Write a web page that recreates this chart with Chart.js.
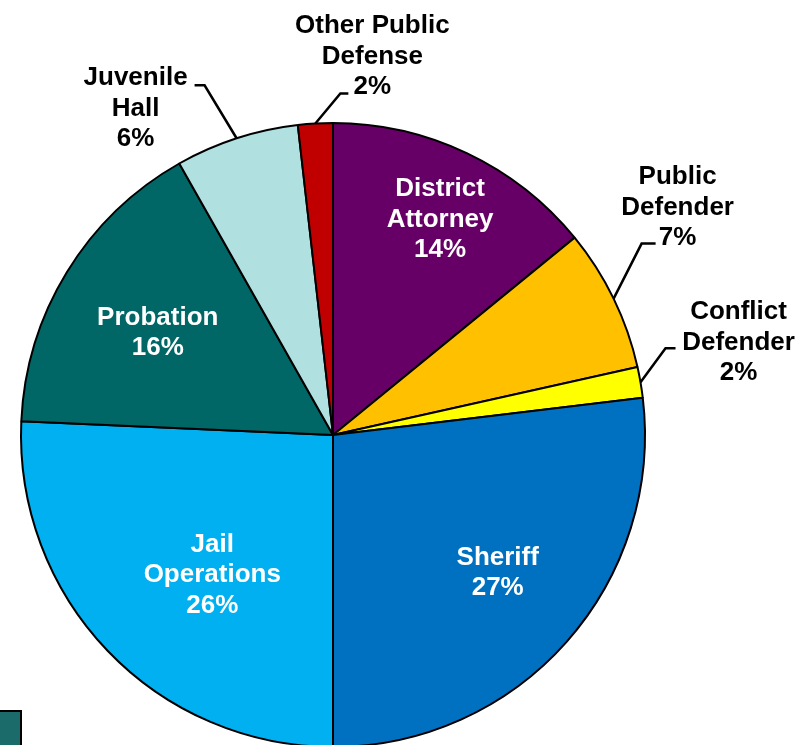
<!DOCTYPE html>
<html>
<head>
<meta charset="utf-8">
<script src="https://cdn.jsdelivr.net/npm/chart.js@4.4.1/dist/chart.umd.min.js"></script>
<style>
  html, body { margin: 0; padding: 0; background: #fff; overflow: hidden; }
  #wrap { position: relative; width: 809px; height: 748px; }
  #swatch { position: absolute; left: 0; top: 710px; width: 20px; height: 40px;
            background: #1b6b6b; border-top: 2px solid #000; border-right: 2px solid #000; }
</style>
</head>
<body>
<div id="wrap">
  <canvas id="pieChart"></canvas>
  <div id="swatch"></div>
</div>
<script>
// 부서별 비중 (%)
const departments = ["District Attorney", "Public Defender", "Conflict Defender", "Sheriff",
                     "Jail Operations", "Probation", "Juvenile Hall", "Other Public Defense"];
const shares = [14.1, 7.4, 1.6, 26.9, 25.7, 16.1, 6.4, 1.8];
const labelLines = [["District", "Attorney"], ["Public", "Defender"], ["Conflict", "Defender"], ["Sheriff"],
                    ["Jail", "Operations"], ["Probation"], ["Juvenile", "Hall"], ["Other Public", "Defense"]];
const colors = ["#660066", "#ffc000", "#ffff00", "#0070c0", "#00b0f0", "#006666", "#b0e0e0", "#c00000"];

// label placement: inside -> polar position, outside -> leader line + text offsets
const labelLayout = [
  { inside: true, r: 0.778, turn: 0.8 },
  { inside: false, elbow: [28, -55], tail: 14, text: [22, -38] },
  { inside: false, elbow: [25, -34], tail: 10, text: [63, -8] },
  { inside: true, r: 0.684, turn: -2.1 },
  { inside: true, r: 0.588, turn: -5.1 },
  { inside: true, r: 0.654, turn: -0.7 },
  { inside: false, elbow: [-32, -53], tail: -10, text: [-59, 21] },
  { inside: false, elbow: [25, -30], tail: 8, text: [24, -39] }
];

const FONT_SIZE = 26;
const LINE_H = 30.5;

const sliceLabels = {
  id: "sliceLabels",
  afterDatasetsDraw(chart) {
    const ctx = chart.ctx;
    const arcs = chart.getDatasetMeta(0).data;
    ctx.save();
    ctx.font = "bold " + FONT_SIZE + "px 'Liberation Sans', Arial, sans-serif";
    ctx.textAlign = "center";
    ctx.textBaseline = "alphabetic";
    arcs.forEach((arc, i) => {
      const lay = labelLayout[i];
      const lines = labelLines[i].concat([Math.round(shares[i]) + "%"]);
      const mid = (arc.startAngle + arc.endAngle) / 2;
      let cx, cy;
      if (lay.inside) {
        const a = mid + lay.turn * Math.PI / 180;
        cx = arc.x + Math.cos(a) * arc.outerRadius * lay.r;
        cy = arc.y + Math.sin(a) * arc.outerRadius * lay.r;
        ctx.fillStyle = "#fff";
      } else {
        const ax = arc.x + Math.cos(mid) * arc.outerRadius;
        const ay = arc.y + Math.sin(mid) * arc.outerRadius;
        const ex = ax + lay.elbow[0], ey = ay + lay.elbow[1];
        const tx = ex + lay.tail;
        ctx.strokeStyle = "#000";
        ctx.lineWidth = 2.5;
        ctx.beginPath();
        ctx.moveTo(ax, ay);
        ctx.lineTo(ex, ey);
        ctx.lineTo(tx, ey);
        ctx.stroke();
        cx = tx + lay.text[0];
        cy = ey + lay.text[1];
        ctx.fillStyle = "#000";
      }
      // cy = cap centre of the middle line
      const first = cy - (lines.length - 1) / 2 * LINE_H;
      lines.forEach((t, k) => {
        ctx.fillText(t, cx, first + k * LINE_H + FONT_SIZE * 0.36);
      });
    });
    ctx.restore();
  }
};

new Chart(document.getElementById("pieChart"), {
  type: "pie",
  data: {
    labels: departments,
    datasets: [{
      data: shares,
      backgroundColor: colors,
      borderColor: "#000",
      borderWidth: 2
    }]
  },
  options: {
    responsive: true,
    maintainAspectRatio: false,
    animation: false,
    layout: { padding: { left: 20, right: 163, top: 122, bottom: 0 } },
    plugins: { legend: { display: false }, tooltip: { enabled: false } }
  },
  plugins: [sliceLabels]
});
</script>
</body>
</html>
